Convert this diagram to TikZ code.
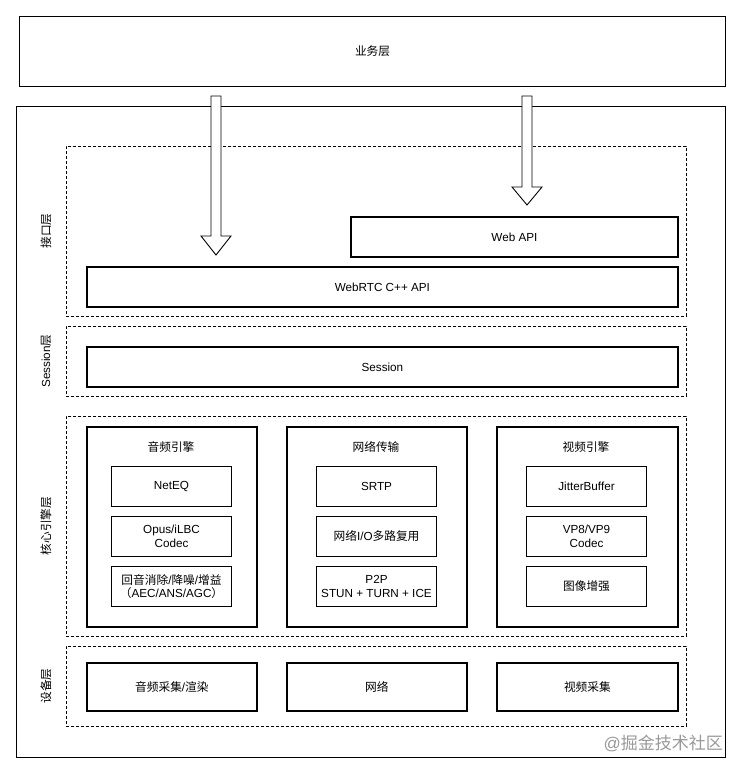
\documentclass[tikz,border=0pt]{standalone}
\usepackage{fontspec}
\setmainfont{Liberation Sans}
\newfontfamily\cjk{Noto Sans CJK SC}
\begin{document}
\begin{tikzpicture}[x=1pt,y=-1pt,
  every node/.style={font=\fontsize{11.7}{13.7}\selectfont, align=center, inner sep=0pt},
  solidbox/.style={draw=black, line width=1.8pt, fill=white, anchor=north west},
  thinbox/.style={draw=black, line width=1pt, fill=white, anchor=north west},
  dashbox/.style={draw=black, line width=0.7pt, dash pattern=on 3pt off 2pt, anchor=north west},
  sidelbl/.style={rotate=90},
  blockarrow/.style={draw=black, line width=0.9pt, fill=white}]
\useasboundingbox (0,0) rectangle (744,773);
\fill[white] (0,0) rectangle (744,773);

% top layer
\node[solidbox, line width=1.1pt, minimum width=706pt, minimum height=70pt] (biz) at (19,16) {\cjk 业务层};
% outer container
\node[draw=black, line width=1pt, anchor=north west, minimum width=709pt, minimum height=651pt] (outer) at (16,106) {};

% interface layer
\node[dashbox, minimum width=620pt, minimum height=170pt] (ifl) at (66,146) {};
\node[sidelbl] (iflbl) at (46,231) {\cjk 接口层};
\node[solidbox, minimum width=327pt, minimum height=40pt] (webapi) at (350,216) {Web API};
\node[solidbox, minimum width=591pt, minimum height=40pt] (cppapi) at (86,266) {WebRTC C++ API};

% session layer
\node[dashbox, minimum width=620pt, minimum height=70pt] (sesl) at (66,326) {};
\node[sidelbl] (seslbl) at (46,361) {Session\cjk 层};
\node[solidbox, minimum width=591pt, minimum height=40pt] (session) at (86,346) {Session};

% core engine layer
\node[dashbox, minimum width=620pt, minimum height=220pt] (corel) at (66,416) {};
\node[sidelbl] (corelbl) at (46,526) {\cjk 核心引擎层};

\node[solidbox, minimum width=170pt, minimum height=200pt] (audio) at (86,426) {};
\node (audiot) at (171,447) {\cjk 音频引擎};
\node[thinbox, minimum width=120pt, minimum height=40pt] (neteq) at (111,466) {NetEQ};
\node[thinbox, minimum width=120pt, minimum height=40pt] (opus) at (111,516) {Opus/iLBC\\Codec};
\node[thinbox, minimum width=120pt, minimum height=40pt] (aec) at (111,566) {{\cjk 回音消除}/{\cjk 降噪}/{\cjk 增益}\\{\cjk （}AEC/ANS/AGC{\cjk ）}};

\node[solidbox, minimum width=180pt, minimum height=200pt] (net) at (286,426) {};
\node (nett) at (376,447) {\cjk 网络传输};
\node[thinbox, minimum width=120pt, minimum height=40pt] (srtp) at (316,466) {SRTP};
\node[thinbox, minimum width=120pt, minimum height=40pt] (mux) at (316,516) {{\cjk 网络}I/O{\cjk 多路复用}};
\node[thinbox, minimum width=120pt, minimum height=40pt] (p2p) at (316,566) {P2P\\STUN + TURN + ICE};

\node[solidbox, minimum width=181pt, minimum height=200pt] (video) at (496,426) {};
\node (videot) at (586,447) {\cjk 视频引擎};
\node[thinbox, minimum width=120pt, minimum height=40pt] (jitter) at (526,466) {JitterBuffer};
\node[thinbox, minimum width=120pt, minimum height=40pt] (vp8) at (526,516) {VP8/VP9\\Codec};
\node[thinbox, minimum width=120pt, minimum height=40pt] (enh) at (526,566) {\cjk 图像增强};

% device layer
\node[dashbox, minimum width=620pt, minimum height=80pt] (devl) at (66,646) {};
\node[sidelbl] (devlbl) at (46,686) {\cjk 设备层};
\node[solidbox, minimum width=170pt, minimum height=48pt] (acap) at (86,662) {{\cjk 音频采集}/{\cjk 渲染}};
\node[solidbox, minimum width=180pt, minimum height=48pt] (netdev) at (286,662) {\cjk 网络};
\node[solidbox, minimum width=181pt, minimum height=48pt] (vcap) at (496,662) {\cjk 视频采集};

% block arrows
\draw[blockarrow] (211,96) -- (221,96) -- (221,236) -- (231,236) -- (216,255) -- (201,236) -- (211,236) -- cycle;
\draw[blockarrow] (522,96) -- (532,96) -- (532,187) -- (542,187) -- (527,205) -- (512,187) -- (522,187) -- cycle;

% watermark
\node[anchor=east, text=black!40, font=\fontsize{17}{19}\selectfont] (wm) at (723,743) {@{\cjk 掘金技术社区}};
\end{tikzpicture}
\end{document}
